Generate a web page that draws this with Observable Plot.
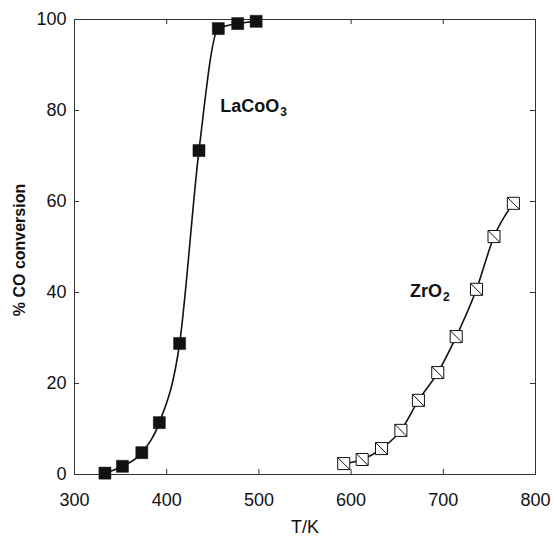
<!DOCTYPE html>
<html>
<head>
<meta charset="utf-8">
<script src="https://cdn.jsdelivr.net/npm/d3@7"></script>
<script src="https://cdn.jsdelivr.net/npm/@observablehq/plot@0.6"></script>
<style>
  html, body { margin: 0; padding: 0; background: #fff; }
</style>
</head>
<body>
<div id="chart"></div>
<script>
// LaCoO3 series
const laT = [333, 352, 373, 392, 414, 435, 456, 477, 497];
const laV = [0.3, 1.8, 4.8, 11.4, 28.8, 71.2, 98.0, 99.1, 99.6];
// ZrO2 series
const zrT = [592, 612, 633, 654, 673, 694, 714, 736, 755, 776];
const zrV = [2.4, 3.3, 5.7, 9.7, 16.3, 22.4, 30.3, 40.7, 52.3, 59.6];
// ticks
const xTicks = [300, 400, 500, 600, 700, 800];
const yTicks = [0, 20, 40, 60, 80, 100];
const xInner = [400, 500, 600, 700];
const yInner = [20, 40, 60, 80];
// labels
const seriesNames = ["LaCoO", "ZrO"];
const seriesSubs = ["3", "2"];
const labelT = [458, 664];
const labelV = [81, 40.3];
const yTitle = "% CO conversion";

const la = laT.map((t, i) => ({t, v: laV[i]}));
const zr = zrT.map((t, i) => ({t, v: zrV[i]}));
const labels = seriesNames.map((n, i) => ({name: n, sub: seriesSubs[i], t: labelT[i], v: labelV[i]}));

const crossedSquare = {
  draw(context, size) {
    const s = Math.sqrt(size) / 2;
    context.moveTo(-s, -s);
    context.lineTo(s, -s);
    context.lineTo(s, s);
    context.lineTo(-s, s);
    context.closePath();
    context.moveTo(-s, -s);
    context.lineTo(s, s);
  }
};

const ink = "#111";
const chart = Plot.plot({
  width: 554,
  height: 536,
  marginLeft: 74,
  marginRight: 19,
  marginTop: 19,
  marginBottom: 62,
  x: {domain: [300, 800]},
  y: {domain: [0, 100]},
  style: {fontFamily: "'Liberation Sans', Arial, sans-serif", fontSize: "18px", color: ink, background: "#fff"},
  marks: [
    Plot.frame({stroke: "#333", strokeWidth: 1}),
    // tick labels
    Plot.axisX({anchor: "bottom", ticks: xTicks, tickSize: 0, tickPadding: 19, tickFormat: d => String(d),
      label: "T/K", labelAnchor: "center", labelArrow: false, labelOffset: 58, fontSize: 18}),
    Plot.axisY({anchor: "left", ticks: yTicks, tickSize: 0, tickPadding: 8, tickFormat: d => String(d),
      label: null, fontSize: 18}),
    // inward tick marks
    Plot.ruleX(xInner, {x: d => d, y1: 0, y2: 1.1, stroke: "#333"}),
    Plot.ruleX(xInner, {x: d => d, y1: 98.9, y2: 100, stroke: "#333"}),
    Plot.ruleY(yInner, {y: d => d, x1: 300, x2: 305.4, stroke: "#333"}),
    Plot.ruleY(yInner, {y: d => d, x1: 794.6, x2: 800, stroke: "#333"}),
    // curves
    Plot.line(la, {x: "t", y: "v", curve: "monotone-x", stroke: ink, strokeWidth: 1.6}),
    Plot.line(zr, {x: "t", y: "v", curve: "monotone-x", stroke: ink, strokeWidth: 1.6}),
    // markers
    Plot.dot(la, {x: "t", y: "v", symbol: "square", r: 6.8, fill: ink, stroke: ink, strokeWidth: 0.5}),
    Plot.dot(zr, {x: "t", y: "v", symbol: crossedSquare, r: 6.8, fill: "#fff", stroke: ink, strokeWidth: 1}),
    // series labels
    Plot.text(labels, {x: "t", y: "v", text: "name", textAnchor: "start", lineAnchor: "middle", fontWeight: "bold", fontSize: 18, fill: ink}),
    Plot.text(labels, {x: "t", y: "v", text: "sub", textAnchor: "start", lineAnchor: "middle", fontWeight: "bold", fontSize: 12, fill: ink})
  ]
});
document.getElementById("chart").appendChild(chart);
// shift subscripts to follow their main text
const texts = chart.querySelectorAll("g[aria-label='text']");
const mains = texts[texts.length - 2].querySelectorAll("text");
const subs = texts[texts.length - 1].querySelectorAll("text");
subs.forEach((s, i) => {
  const w = mains[i].getComputedTextLength();
  const tr = s.getAttribute("transform") || "";
  s.setAttribute("transform", tr + ` translate(${w + 1},6)`);
});
// rotated y-axis title, centred on the frame's left side
const ns = "http://www.w3.org/2000/svg";
const t = document.createElementNS(ns, "text");
t.setAttribute("transform", "translate(19,250) rotate(-90)");
t.setAttribute("text-anchor", "middle");
t.setAttribute("dy", "0.35em");
t.setAttribute("font-weight", "bold");
t.setAttribute("font-size", "16");
t.setAttribute("fill", ink);
t.textContent = yTitle;
chart.appendChild(t);
</script>
</body>
</html>
